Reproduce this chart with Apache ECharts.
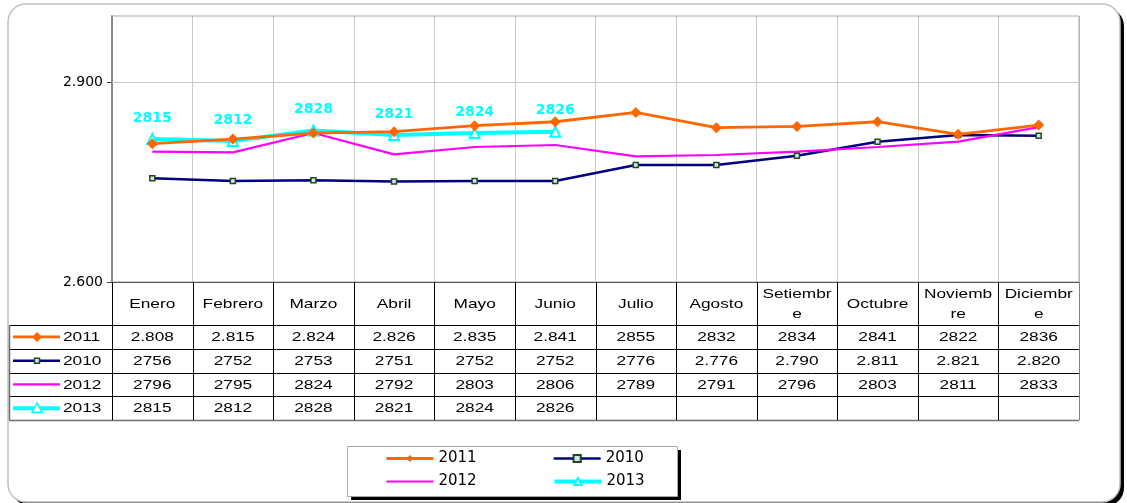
<!DOCTYPE html>
<html>
<head>
<meta charset="utf-8">
<script src="https://cdn.jsdelivr.net/npm/echarts@6/dist/echarts.min.js"></script>
<style>
html,body{margin:0;padding:0;background:#fff;}
#c{width:1127px;height:503px;}
</style>
</head>
<body>
<div id="c"></div>
<script>
// ---- data ----
const months = ['Enero','Febrero','Marzo','Abril','Mayo','Junio','Julio','Agosto','Setiembre','Octubre','Noviembre','Diciembre'];
const monthHeaders = ['Enero','Febrero','Marzo','Abril','Mayo','Junio','Julio','Agosto','Setiembr\ne','Octubre','Noviemb\nre','Diciembr\ne'];
const seriesNames = ['2011','2010','2012','2013'];
const v2011 = [2808,2815,2824,2826,2835,2841,2855,2832,2834,2841,2822,2836];
const v2010 = [2756,2752,2753,2751,2752,2752,2776,2776,2790,2811,2821,2820];
const v2012 = [2796,2795,2824,2792,2803,2806,2789,2791,2796,2803,2811,2833];
const v2013 = [2815,2812,2828,2821,2824,2826,null,null,null,null,null,null];
// 1 = value written with a thousands dot in the table
const dot2011 = [1,1,1,1,1,1,0,0,0,0,0,0];
const dot2010 = [0,0,0,0,0,0,0,1,1,1,1,1];
const dot2012 = [0,0,0,0,0,0,0,0,0,0,0,0];
const dot2013 = [0,0,0,0,0,0,0,0,0,0,0,0];
const yTickValues = [2600, 2900];
const yMin = 2600, yMax = 3000;

// ---- styling ----
const C2011 = '#FF6600', C2010 = '#000080', C2012 = '#FF00FF', C2013 = '#00FFFF';
const ARIAL = '"Liberation Sans", Arial, sans-serif';
const DEJA = '"DejaVu Sans", sans-serif';
const rowColors = [C2011, C2010, C2012, C2013];
const rowWidths = [2.8, 2.5, 2.2, 4];

const chart = echarts.init(document.getElementById('c'), null, {renderer: 'canvas'});

const fmtDot = v => (v / 1000).toFixed(3);

const option = {
  animation: false,
  backgroundColor: 'transparent',
  grid: {left: 112, right: 48, top: 16, bottom: 221, show: true, borderColor: '#a8a8a8', borderWidth: 1, z: 1},
  xAxis: {
    type: 'category',
    data: months,
    boundaryGap: true,
    axisLine: {show: true, lineStyle: {color: '#000', width: 1}},
    axisTick: {show: false},
    axisLabel: {show: false},
    splitLine: {show: true, lineStyle: {color: '#c8c8c8', width: 1}}
  },
  yAxis: {
    type: 'value',
    min: yMin, max: yMax, interval: 100,
    axisLine: {show: true, lineStyle: {color: '#404040', width: 1.5}},
    axisTick: {show: true, length: 5, inside: false, customValues: yTickValues, lineStyle: {color: '#404040'}},
    axisLabel: {
      show: true, customValues: yTickValues, margin: 9,
      fontFamily: DEJA, fontSize: 14, color: '#000',
      formatter: v => (yTickValues.indexOf(v) >= 0 ? fmtDot(v) : '')
    },
    splitLine: {show: false}
  },
  legend: {
    left: 385, top: 447, padding: 0, width: 400,
    itemWidth: 47, itemHeight: 9, itemGap: 0,
    data: seriesNames.map((n, i) => ({
      name: n,
      lineStyle: {width: rowWidths[i], color: rowColors[i]},
      itemStyle: i === 2 ? {opacity: 0} : undefined
    })),
    textStyle: {fontFamily: DEJA, fontSize: 15, color: '#000', width: 114, lineHeight: 23}
  },
  series: [
    {
      name: '2011', type: 'line', data: v2011, z: 5,
      symbol: 'diamond', symbolSize: 11,
      lineStyle: {color: C2011, width: rowWidths[0]},
      itemStyle: {color: C2011}
    },
    {
      name: '2010', type: 'line', data: v2010, z: 3,
      symbol: 'rect', symbolSize: 5,
      lineStyle: {color: C2010, width: rowWidths[1]},
      itemStyle: {color: '#d8e4f0', borderColor: '#1e4a1e', borderWidth: 1.5}
    },
    {
      name: '2012', type: 'line', data: v2012, z: 3,
      symbol: 'circle', showSymbol: false,
      lineStyle: {color: C2012, width: rowWidths[2]},
      itemStyle: {color: C2012},
      markLine: {
        silent: true, symbol: 'none', label: {show: false},
        lineStyle: {color: '#c8c8c8', type: 'solid', width: 1},
        data: [{yAxis: yTickValues[1]}]
      }
    },
    {
      name: '2013', type: 'line', data: v2013, z: 4,
      symbol: 'emptyTriangle', symbolSize: 10,
      lineStyle: {color: C2013, width: rowWidths[3]},
      itemStyle: {color: C2013, borderWidth: 1.5},
      label: {
        show: true, position: 'top', distance: 8,
        color: C2013, fontFamily: DEJA, fontWeight: 'bold', fontSize: 14
      }
    }
  ]
};
chart.setOption(option);

// ---- data table drawn under the plot ----
const rowsVals = [v2011, v2010, v2012, v2013];
const rowsDots = [dot2011, dot2010, dot2012, dot2013];

const centers = months.map((m, i) => chart.convertToPixel({xAxisIndex: 0}, i));
const colW = centers[1] - centers[0];
const plotLeft = centers[0] - colW / 2;
const plotRight = centers[centers.length - 1] + colW / 2;
const tableTop = chart.convertToPixel({yAxisIndex: 0}, yMin);
const headerBottom = tableTop + 43;
const rowH = 23.75;
const tableLeft = 9;
const tableBottom = headerBottom + rowH * 4;

const g = [];
const px = v => Math.round(v) + 0.5;
function hline(x1, x2, y, color, w) {
  g.push({type: 'line', silent: true, z: 10, shape: {x1: x1, y1: px(y), x2: x2, y2: px(y)}, style: {stroke: color || '#000', lineWidth: w || 1}});
}
function vline(x, y1, y2, color, w) {
  g.push({type: 'line', silent: true, z: 10, shape: {x1: px(x), y1: y1, x2: px(x), y2: y2}, style: {stroke: color || '#000', lineWidth: w || 1}});
}
function txt(x, y, s, align, opts) {
  g.push(Object.assign({
    type: 'text', silent: true, z: 11, x: x, y: y, scaleX: 1.28,
    style: {text: s, align: align || 'center', verticalAlign: 'middle', font: '13.5px ' + ARIAL, fill: '#000', lineHeight: 20}
  }, opts || {}));
}

// outer frame with shadow
g.push({type: 'rect', silent: true, z: -20, shape: {x: 12, y: 8, width: 1112, height: 498, r: 18}, style: {fill: '#000'}});
g.push({type: 'rect', silent: true, z: -19, shape: {x: 8, y: 4, width: 1112, height: 498, r: 18}, style: {fill: '#fff', stroke: '#c0c0c0', lineWidth: 1.5}});

// legend box with shadow
g.push({type: 'rect', silent: true, z: -5, shape: {x: 351, y: 450, width: 330, height: 50}, style: {fill: '#000'}});
g.push({type: 'rect', silent: true, z: -4, shape: {x: 347.5, y: 446.5, width: 330, height: 50}, style: {fill: '#fff', stroke: '#a8a8a8', lineWidth: 1}});

// table grid
hline(tableLeft, plotRight, headerBottom);
for (let r = 1; r < 4; r++) hline(tableLeft, plotRight, headerBottom + r * rowH);
hline(tableLeft, plotRight, tableBottom, '#707070', 1.5);
vline(tableLeft, headerBottom, tableBottom, '#707070', 1.5);
for (let i = 0; i <= months.length; i++) {
  vline(plotLeft + i * colW, tableTop, tableBottom, i === months.length ? '#808080' : '#000');
}

// header
monthHeaders.forEach((h, i) => txt(centers[i], (tableTop + headerBottom) / 2 + 0.5, h));

// rows
rowsVals.forEach((vals, r) => {
  const cy = headerBottom + (r + 0.5) * rowH;
  // series key
  g.push({type: 'line', silent: true, z: 11, shape: {x1: 13, y1: cy, x2: 60, y2: cy}, style: {stroke: rowColors[r], lineWidth: rowWidths[r]}});
  if (r === 0) g.push({type: 'polygon', silent: true, z: 12, shape: {points: [[37, cy - 5], [42, cy], [37, cy + 5], [32, cy]]}, style: {fill: C2011}});
  if (r === 1) g.push({type: 'rect', silent: true, z: 12, shape: {x: 34.5, y: cy - 2.5, width: 5, height: 5}, style: {fill: '#d8e4f0', stroke: '#1e4a1e', lineWidth: 1.5}});
  if (r === 3) g.push({type: 'polygon', silent: true, z: 12, shape: {points: [[37, cy - 5], [42, cy + 4], [32, cy + 4]]}, style: {fill: '#fff', stroke: C2013, lineWidth: 1.5}});
  txt(63, cy + 0.5, seriesNames[r], 'left');
  vals.forEach((v, i) => {
    if (v == null) return;
    txt(centers[i], cy + 0.5, rowsDots[r][i] ? fmtDot(v) : String(v));
  });
});

chart.setOption({graphic: {elements: g}});
</script>
</body>
</html>
